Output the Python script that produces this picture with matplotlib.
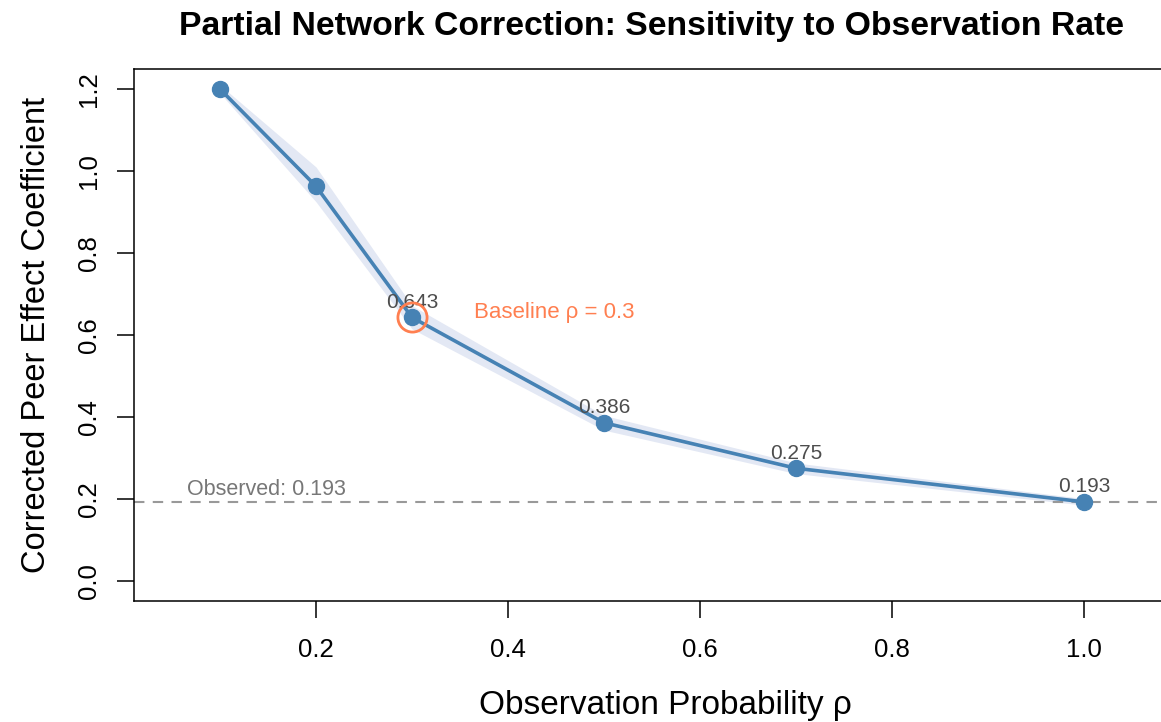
import matplotlib
matplotlib.use("Agg")
import matplotlib.pyplot as plt
import numpy as np

plt.rcParams['font.family'] = ['Liberation Sans', 'DejaVu Sans']

# sensitivity of the corrected coefficient to the observation rate
rho = [0.1, 0.2, 0.3, 0.5, 0.7, 1.0]
beta = [1.200, 0.963, 0.643, 0.386, 0.275, 0.193]
band_lo = [1.190, 0.925, 0.615, 0.368, 0.262, 0.185]
band_hi = [1.210, 1.010, 0.672, 0.404, 0.288, 0.201]
labelled = [0.643, 0.386, 0.275, 0.193]
observed = 0.193
baseline = 0.3

fig = plt.figure(figsize=(11.61, 7.22), dpi=100)
# plot region runs past the right edge of the canvas
ax = fig.add_axes([134/1161, 1 - 601/722, (1196 - 134)/1161, (601 - 69)/722])

ax.fill_between(rho, band_lo, band_hi, color='#E3E8F4', lw=0, zorder=1)
ax.axhline(observed, color='#999999', ls=(0, (5, 4)), lw=1.5, zorder=2)
ax.plot(rho, beta, color='#4682B4', lw=2.6, marker='o', ms=11.5, zorder=3)

i = rho.index(baseline)
ax.plot(rho[i], beta[i], 'o', ms=21, mfc='none', mec='#FF7F50', mew=2, zorder=4)
ax.text(0.365, beta[i] + 0.011, "Baseline \u03c1 = 0.3", color='#FF7F50',
        fontsize=16, va='center', ha='left')

for x, y in zip(rho, beta):
    if y in labelled:
        ax.annotate(f"{y:.3f}", (x, y), xytext=(0, 4), textcoords='offset points',
                    ha='center', va='bottom', fontsize=15, color='#4D4D4D')

ax.text(0.0656, observed + 0.004, f"Observed: {observed}", color='#777777',
        fontsize=15.5, ha='left', va='bottom')

ax.set_xlim(0.0104, 1.1167)
ax.set_ylim(-0.0488, 1.249)
ax.set_xticks([0.2, 0.4, 0.6, 0.8, 1.0])
ax.set_yticks([0.0, 0.2, 0.4, 0.6, 0.8, 1.0, 1.2])
ax.xaxis.set_major_formatter(matplotlib.ticker.FormatStrFormatter('%.1f'))
ax.yaxis.set_major_formatter(matplotlib.ticker.FormatStrFormatter('%.1f'))
ax.tick_params(direction='out', length=12, width=1.1, labelsize=18.5, color='black')
ax.tick_params(axis='x', pad=14.5)
ax.tick_params(axis='y', pad=12)
for lab in ax.get_yticklabels():
    lab.set_rotation(90)
    lab.set_va('center')
for s in ax.spines.values():
    s.set_linewidth(1.1)

ax.set_xlabel("Observation Probability \u03c1", fontsize=24, labelpad=20)
ax.set_ylabel("Corrected Peer Effect Coefficient", fontsize=23.5, labelpad=18)
fig.text(0.5 * (178 + 1125) / 1161, 1 - 27/722,
         "Partial Network Correction: Sensitivity to Observation Rate",
         fontsize=24.3, fontweight='bold', ha='center', va='center')

fig.savefig("out.png", dpi=100)
